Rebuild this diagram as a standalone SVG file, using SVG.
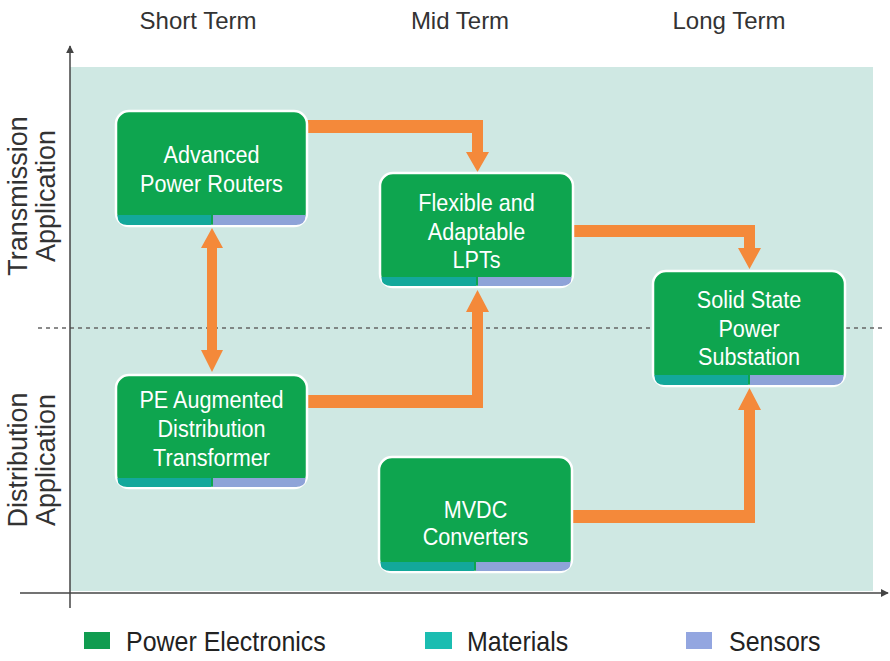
<svg xmlns="http://www.w3.org/2000/svg" width="890" height="661" viewBox="0 0 890 661">
  <defs>
    <style>
      .hdr { font-family: "Liberation Sans", Arial, sans-serif; font-size: 24px; fill: #333; text-anchor: middle; }
      .side { font-family: "Liberation Sans", Arial, sans-serif; font-size: 27px; fill: #333; text-anchor: middle; }
      .lbl { font-family: "Liberation Sans", Arial, sans-serif; font-size: 24px; fill: #ffffff; text-anchor: middle; }
      .leg { font-family: "Liberation Sans", Arial, sans-serif; font-size: 27px; fill: #222; }
      .box { fill: #0ea54f; stroke: #ffffff; stroke-width: 2.5; }
      .mat { fill: #13a89b; }
      .sen { fill: #8ea3d8; }
      .flow { fill: #f4893a; }
      .axis { stroke: #444; stroke-width: 1.5; fill: none; }
    </style>
    <marker id="axhead" viewBox="0 0 10 10" refX="9" refY="5" markerWidth="8" markerHeight="8" markerUnits="userSpaceOnUse" orient="auto">
      <path d="M0,0 L10,5 L0,10 z" fill="#444"/>
    </marker>
  </defs>

  <!-- plot area -->
  <rect x="70" y="67" width="803" height="524" fill="#cfe8e3"/>
  <line x1="38" y1="328" x2="882" y2="328" stroke="#666" stroke-width="1.5" stroke-dasharray="4,4"/>

  <!-- axes -->
  <line class="axis" x1="70" y1="608" x2="70" y2="46" marker-end="url(#axhead)"/>
  <line class="axis" x1="20" y1="593" x2="888" y2="593" marker-end="url(#axhead)"/>

  <!-- column headings -->
  <text class="hdr" x="198" y="29">Short Term</text>
  <text class="hdr" x="460" y="29">Mid Term</text>
  <text class="hdr" x="729" y="29">Long Term</text>

  <!-- row headings -->
  <text class="side" transform="translate(27,196) rotate(-90)">Transmission</text>
  <text class="side" transform="translate(55,196) rotate(-90)">Application</text>
  <text class="side" transform="translate(27,460) rotate(-90)">Distribution</text>
  <text class="side" transform="translate(55,460) rotate(-90)">Application</text>

  <!-- connectors -->
  <g id="connectors">
    <!-- Advanced Power Routers -> Flexible and Adaptable LPTs -->
    <path class="flow" d="M307,120 H483 V152 H489 L477.5,172 L466,152 H472 V133 H307 z"/>
    <!-- Flexible and Adaptable LPTs -> Solid State Power Substation -->
    <path class="flow" d="M574,225 H755 V248 H761 L749.5,269 L738,248 H744 V237 H574 z"/>
    <!-- PE Augmented Distribution Transformer -> Flexible and Adaptable LPTs -->
    <path class="flow" d="M307,408 H483 V312 H489 L477.5,290 L466,312 H472 V395 H307 z"/>
    <!-- MVDC Converters -> Solid State Power Substation -->
    <path class="flow" d="M572,523 H755 V410 H761 L749.5,388 L738,410 H744 V510 H572 z"/>
    <!-- Advanced Power Routers <-> PE Augmented Distribution Transformer -->
    <path class="flow" d="M212,228 L223,248 H217 V350 H223 L212,372 L201,350 H207 V248 H201 z"/>
  </g>

  <!-- nodes (labels condensed horizontally) -->
  <g id="node-routers">
    <rect class="box" x="116" y="111" width="191" height="115" rx="13"/>
    <path class="mat" d="M117.5,215 H211 V225 H128 Q117.5,225 117.5,216 z"/>
    <path class="sen" d="M213,215 H305.5 V216 Q305.5,225 295,225 H213 z"/>
    <g transform="translate(211.5,0) scale(0.9,1)">
      <text class="lbl" x="0" y="163">Advanced</text>
      <text class="lbl" x="0" y="192">Power Routers</text>
    </g>
  </g>

  <g id="node-lpt">
    <rect class="box" x="380" y="173" width="193" height="114" rx="13"/>
    <path class="mat" d="M381.5,277 H476 V286 H392 Q381.5,286 381.5,278 z"/>
    <path class="sen" d="M478,277 H571.5 V278 Q571.5,286 561,286 H478 z"/>
    <g transform="translate(476.5,0) scale(0.9,1)">
      <text class="lbl" x="0" y="211">Flexible and</text>
      <text class="lbl" x="0" y="240">Adaptable</text>
      <text class="lbl" x="0" y="268">LPTs</text>
    </g>
  </g>

  <g id="node-substation">
    <rect class="box" x="653" y="271" width="192" height="115" rx="13"/>
    <path class="mat" d="M654.5,375 H748 V385 H665 Q654.5,385 654.5,376 z"/>
    <path class="sen" d="M750,375 H843.5 V376 Q843.5,385 833,385 H750 z"/>
    <g transform="translate(749,0) scale(0.9,1)">
      <text class="lbl" x="0" y="308">Solid State</text>
      <text class="lbl" x="0" y="337">Power</text>
      <text class="lbl" x="0" y="365">Substation</text>
    </g>
  </g>

  <g id="node-pe-transformer">
    <rect class="box" x="116" y="375" width="191" height="113" rx="13"/>
    <path class="mat" d="M117.5,478 H211 V487 H128 Q117.5,487 117.5,479 z"/>
    <path class="sen" d="M213,478 H305.5 V479 Q305.5,487 295,487 H213 z"/>
    <g transform="translate(211.5,0) scale(0.9,1)">
      <text class="lbl" x="0" y="408">PE Augmented</text>
      <text class="lbl" x="0" y="437">Distribution</text>
      <text class="lbl" x="0" y="466">Transformer</text>
    </g>
  </g>

  <g id="node-mvdc">
    <rect class="box" x="379" y="457" width="193" height="115" rx="13"/>
    <path class="mat" d="M380.5,562 H474 V571 H391 Q380.5,571 380.5,563 z"/>
    <path class="sen" d="M476,562 H570.5 V563 Q570.5,571 560,571 H476 z"/>
    <g transform="translate(475.5,0) scale(0.9,1)">
      <text class="lbl" x="0" y="518">MVDC</text>
      <text class="lbl" x="0" y="545">Converters</text>
    </g>
  </g>

  <!-- legend -->
  <g id="legend">
    <rect x="84" y="632" width="26" height="17" fill="#109c50"/>
    <text class="leg" transform="translate(126,651) scale(0.925,1)">Power Electronics</text>
    <rect x="425" y="632" width="27" height="17" fill="#1bbdb1"/>
    <text class="leg" transform="translate(467,651) scale(0.925,1)">Materials</text>
    <rect x="686" y="632" width="26" height="17" fill="#93a6e0"/>
    <text class="leg" transform="translate(729,651) scale(0.925,1)">Sensors</text>
  </g>
</svg>
